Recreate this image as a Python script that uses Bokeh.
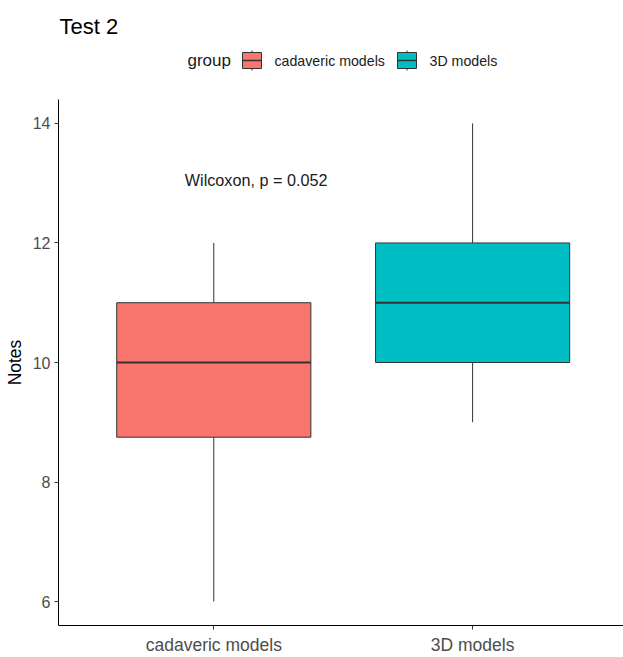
from bokeh.plotting import figure
from bokeh.layouts import column
from bokeh.models import Range1d, FixedTicker, Label, ColumnDataSource
from bokeh.core.properties import value
from bokeh.embed import file_html
from bokeh.resources import INLINE

# Box-plot summary for each group
groups = ["cadaveric models", "3D models"]
positions = [1, 2]
whisker_low = [6, 9]
q1 = [8.75, 10]
median = [10, 11]
q3 = [11, 12]
whisker_high = [12, 14]
colors = ["#F8766D", "#00BFC4"]
box_width = 0.75

test_label = "Wilcoxon, p = 0.052"
test_x = 0.888
test_y = 13.05

FONT = "Liberation Sans"
W = 623
HEAD_H = 99
MAIN_H = 657 - HEAD_H
LEFT = 58

# ---------------- header: title and legend (pixel coordinates) ----------------
head = figure(width=W, height=HEAD_H, output_backend="svg", toolbar_location=None,
              x_range=Range1d(LEFT, W), y_range=Range1d(HEAD_H, 0),
              x_axis_type=None, y_axis_type=None,
              min_border_left=LEFT, min_border_right=0,
              min_border_top=0, min_border_bottom=0)
head.outline_line_color = None
head.grid.visible = False
head.background_fill_color = "white"
head.border_fill_color = "white"

head.add_layout(Label(x=59, y=26, text="Test 2", text_font=FONT,
                      text_font_size="22px", text_font_style="normal", text_color="black",
                      text_baseline="alphabetic", text_align="left"))
head.add_layout(Label(x=187, y=60, text="group", text_font=FONT,
                      text_font_size="17px", text_font_style="normal", text_color="#1a1a1a",
                      text_baseline="middle", text_align="left"))

# legend keys: small boxplot glyph followed by the group name
key_left = [242, 397]
key_w = 19
key_src = ColumnDataSource(dict(
    left=key_left, right=[k + key_w for k in key_left],
    mid=[k + key_w / 2 for k in key_left],
    label_x=[k + key_w + 13 for k in key_left],
    color=colors, label=groups,
))
head.segment(x0="mid", y0=50, x1="mid", y1=70, source=key_src, line_color="#333333", line_width=1)
head.quad(left="left", right="right", top=52, bottom=68, source=key_src,
          fill_color="color", line_color="#333333", line_width=1)
head.segment(x0="left", y0=60, x1="right", y1=60, source=key_src, line_color="#333333", line_width=1.5)
head.text(x="label_x", y=60, text="label", source=key_src, text_font=value(FONT),
          text_font_size="14.2px", text_font_style="normal", text_color="#1a1a1a",
          text_baseline="middle", text_align="left")

# ---------------- main box plot ----------------
src = ColumnDataSource(dict(x=positions, wlo=whisker_low, q1=q1, q3=q3, whi=whisker_high))

p = figure(width=W, height=MAIN_H, output_backend="svg", toolbar_location=None,
           x_range=Range1d(0.4, 2.583), y_range=Range1d(5.6, 14.4),
           min_border_left=LEFT, min_border_right=0, min_border_bottom=32,
           min_border_top=0)
p.background_fill_color = "white"
p.border_fill_color = "white"
p.outline_line_color = None
p.grid.visible = False

# whiskers
p.segment(x0="x", y0="q3", x1="x", y1="whi", source=src, line_color="#333333", line_width=1)
p.segment(x0="x", y0="wlo", x1="x", y1="q1", source=src, line_color="#333333", line_width=1)
# boxes with median lines
for i in range(len(groups)):
    left = positions[i] - box_width / 2
    right = positions[i] + box_width / 2
    view = ColumnDataSource(dict(left=[left], right=[right], bottom=[q1[i]], top=[q3[i]],
                                 y=[median[i]]))
    p.quad(left="left", right="right", bottom="bottom", top="top", source=view,
           fill_color=colors[i], line_color="#333333", line_width=1)
    p.segment(x0="left", y0="y", x1="right", y1="y", source=view,
              line_color="#333333", line_width=2.2)

p.add_layout(Label(x=test_x, y=test_y, text=test_label, text_font=FONT,
                   text_font_size="16.2px", text_font_style="normal", text_color="#1a1a1a",
                   text_baseline="middle", text_align="left"))

# axes
for ax in (p.xaxis[0], p.yaxis[0]):
    ax.axis_line_color = "black"
    ax.axis_line_width = 1
    ax.major_tick_line_color = "#333333"
    ax.major_tick_out = 4
    ax.major_tick_in = 0
    ax.minor_tick_line_color = None
    ax.major_label_text_font = FONT
    ax.major_label_text_color = "#4D4D4D"

p.xaxis.major_label_text_font_size = "17.5px"
p.yaxis.major_label_text_font_size = "16px"
p.xaxis.ticker = FixedTicker(ticks=positions)
p.xaxis.major_label_overrides = {pos: g for pos, g in zip(positions, groups)}
p.xaxis.major_label_standoff = 5
p.yaxis.ticker = FixedTicker(ticks=[6, 8, 10, 12, 14])
p.yaxis.major_label_standoff = 4
p.yaxis.axis_label = "Notes"
p.yaxis.axis_label_text_font = FONT
p.yaxis.axis_label_text_font_style = "normal"
p.yaxis.axis_label_text_font_size = "17.5px"
p.yaxis.axis_label_text_color = "black"
p.yaxis.axis_label_standoff = 5

layout = column(head, p, spacing=0)
open("out.html", "w").write(file_html(layout, INLINE))
